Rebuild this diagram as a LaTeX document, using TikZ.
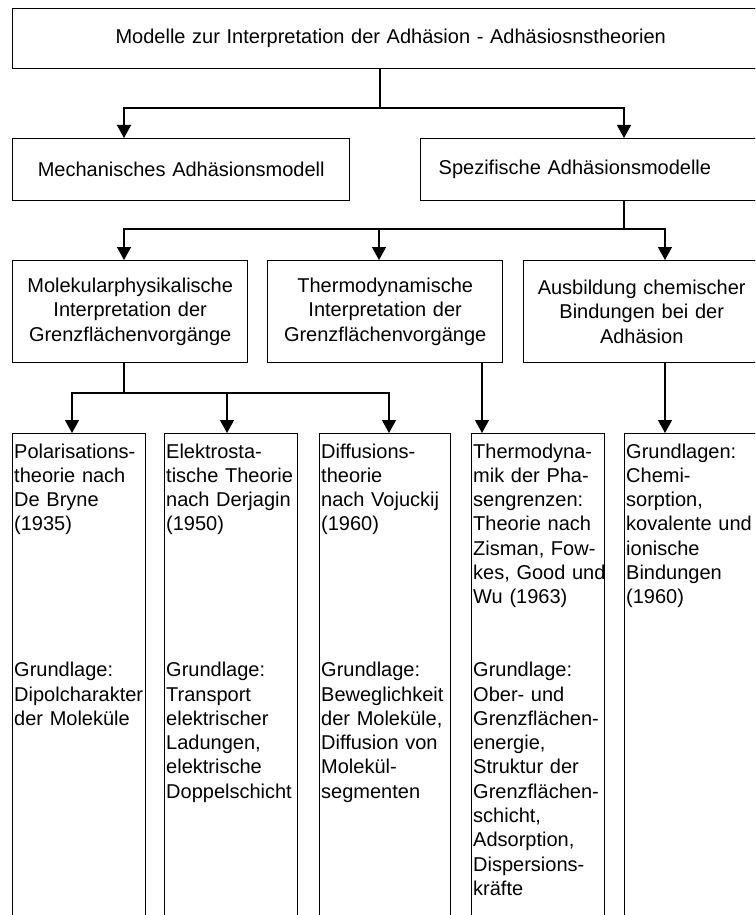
\documentclass[tikz,border=0pt]{standalone}
\usepackage{fontspec}
\setmainfont{Liberation Sans}
\usetikzlibrary{arrows.meta}
\newcommand\myfs{\fontsize{20}{24.3}\selectfont}
\begin{document}
\begin{tikzpicture}[x=1pt,y=-1pt,
  box/.style={draw, line width=1.4pt, inner sep=0pt, anchor=north west, align=center, font=\myfs},
  txt/.style={inner sep=0pt, anchor=base west, align=left, text width=150pt, font=\myfs},
  conn/.style={line width=1.3pt},
  arr/.style={conn, -{Triangle[width=14pt,length=13pt]}}]
\useasboundingbox (0,0) rectangle (755,915);
\clip (0,0) rectangle (755,915);
\fill[white] (0,0) rectangle (755,915);

% level 0
\node[box, minimum width=756pt, minimum height=60pt, text width=740pt] (top) at (12,8)
  {Modelle zur Interpretation der Adhäsion - Adhäsiosnstheorien};
% level 1
\node[box, minimum width=337pt, minimum height=62pt, text width=330pt] (mech) at (12,138)
  {Mechanisches Adhäsionsmodell};
\node[box, minimum width=350pt, minimum height=62pt, text width=314pt, align=left] (spez) at (420,138)
  {Spezifische Adhäsionsmodelle};
% level 2
\node[box, minimum width=235pt, minimum height=102pt, text width=228pt] (molek) at (12,260)
  {Molekularphysikalische\\Interpretation der\\Grenzflächenvorgänge};
\node[box, minimum width=235pt, minimum height=102pt, text width=228pt] (thermo) at (267,260)
  {Thermodynamische\\Interpretation der\\Grenzflächenvorgänge};
\node[box, minimum width=236pt, minimum height=102pt, text width=228pt] (ausb) at (523,260)
  {Ausbildung chemischer\\Bindungen bei der\\Adhäsion};
% level 3 boxes (open to the bottom edge)
\node[box, minimum width=133pt, minimum height=520pt] (b1) at (12,433) {};
\node[box, minimum width=133pt, minimum height=520pt] (b2) at (164,433) {};
\node[box, minimum width=131pt, minimum height=520pt] (b3) at (319,433) {};
\node[box, minimum width=133pt, minimum height=520pt] (b4) at (471,433) {};
\node[box, minimum width=133pt, minimum height=520pt] (b5) at (624,433) {};
% level 3 texts
\node[txt] (t1) at (14,458) {Polarisations-\\theorie nach\\De Bryne\\(1935)\\[121.5pt]Grundlage:\\Dipolcharakter\\der Moleküle};
\node[txt] (t2) at (166,458) {Elektrosta-\\tische Theorie\\nach Derjagin\\(1950)\\[121.5pt]Grundlage:\\Transport\\elektrischer\\Ladungen,\\elektrische\\Doppelschicht};
\node[txt] (t3) at (321,458) {Diffusions-\\theorie\\nach Vojuckij\\(1960)\\[121.5pt]Grundlage:\\Beweglichkeit\\der Moleküle,\\Diffusion von\\Molekül-\\segmenten};
\node[txt] (t4) at (473,458) {Thermodyna-\\mik der Pha-\\sengrenzen:\\Theorie nach\\Zisman, Fow-\\kes, Good und\\Wu (1963)\\[48.6pt]Grundlage:\\Ober- und\\Grenzflächen-\\energie,\\Struktur der\\Grenzflächen-\\schicht,\\Adsorption,\\Dispersions-\\kräfte};
\node[txt] (t5) at (626,458) {Grundlagen:\\Chemi-\\sorption,\\kovalente und\\ionische\\Bindungen\\(1960)};

% helper coordinates
\coordinate (j1) at (380,108);
\coordinate (j2) at (624,229);
\coordinate (j3) at (124,393);
\coordinate (xa) at (124,0);
\coordinate (xb) at (624,0);
\coordinate (xc) at (379,0);
\coordinate (xd) at (665,0);
\coordinate (xe) at (72,0);
\coordinate (xf) at (227,0);
\coordinate (xg) at (389,0);
\coordinate (xh) at (482,0);

% connectors
\draw[conn] (top.south -| j1) -- (j1);
\draw[arr] (j1) -| (mech.north -| xa);
\draw[arr] (j1) -| (spez.north -| xb);

\draw[conn] (spez.south -| j2) -- (j2);
\draw[arr] (j2) -| (molek.north -| xa);
\draw[arr] (j2) -| (thermo.north -| xc);
\draw[arr] (j2) -| (ausb.north -| xd);

\draw[conn] (molek.south -| j3) -- (j3);
\draw[arr] (j3) -| (b1.north -| xe);
\draw[arr] (j3) -| (b2.north -| xf);
\draw[arr] (j3) -| (b3.north -| xg);

\draw[arr] (thermo.south -| xh) -- (b4.north -| xh);
\draw[arr] (ausb.south -| xd) -- (b5.north -| xd);
\end{tikzpicture}
\end{document}
